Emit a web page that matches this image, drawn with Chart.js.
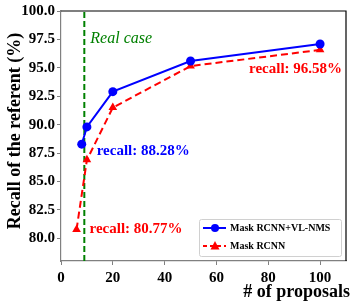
<!DOCTYPE html>
<html>
<head>
<meta charset="utf-8">
<script src="https://cdn.jsdelivr.net/npm/chart.js@4/dist/chart.umd.min.js"></script>
<style>
  html, body { margin: 0; padding: 0; background: #fff; }
  #wrap { width: 357px; height: 303px; }
</style>
</head>
<body>
<div id="wrap"><canvas id="c" width="357" height="303"></canvas></div>
<script>
// ---- data ----
const proposalsVL = [8, 10, 20, 50, 100];
const recallVL    = [88.28, 89.8, 92.9, 95.6, 97.1];
const proposalsMR = [6, 10, 20, 50, 100];
const recallMR    = [80.77, 86.9, 91.5, 95.15, 96.58];
const realCaseX   = 9;
const xTicks = [0, 20, 40, 60, 80, 100];
const yTicks = [80.0, 82.5, 85.0, 87.5, 90.0, 92.5, 95.0, 97.5, 100.0];
const labelVL = 'Mask RCNN+VL-NMS';
const labelMR = 'Mask RCNN';
const xTitle = '# of proposals';
const yTitle = 'Recall of the referent (%)';
const realCaseText = 'Real case';

const SERIF = '"Liberation Serif", "Times New Roman", serif';
const BLUE = '#0000ff', RED = '#ff0000', GREEN = '#008000', GRAY = '#808080';

function pts(xs, ys) { return xs.map((x, i) => ({ x: x, y: ys[i] })); }

const overlay = {
  id: 'overlay',
  afterDraw(chart) {
    const ctx = chart.ctx, a = chart.chartArea;
    const xs = chart.scales.x, ys = chart.scales.y;
    ctx.save();
    // top & right spines (black)
    ctx.strokeStyle = '#000'; ctx.lineWidth = 1.2;
    ctx.beginPath();
    ctx.moveTo(a.left, a.top); ctx.lineTo(a.right, a.top); ctx.lineTo(a.right, a.bottom);
    ctx.stroke();

    // annotations anchored to data points
    ctx.textBaseline = 'middle';
    ctx.font = 'bold 15px ' + SERIF;
    ctx.fillStyle = BLUE; ctx.textAlign = 'left';
    ctx.fillText('recall: ' + recallVL[0].toFixed(2) + '%',
      xs.getPixelForValue(proposalsVL[0]) + 15, ys.getPixelForValue(recallVL[0]) + 7);
    ctx.fillStyle = RED;
    ctx.fillText('recall: ' + recallMR[0].toFixed(2) + '%',
      xs.getPixelForValue(proposalsMR[0]) + 13, ys.getPixelForValue(recallMR[0]));
    ctx.textAlign = 'right';
    const n = recallMR.length - 1;
    ctx.fillText('recall: ' + recallMR[n].toFixed(2) + '%',
      xs.getPixelForValue(proposalsMR[n]) + 22, ys.getPixelForValue(recallMR[n]) + 19);

    // Real case label
    ctx.fillStyle = GREEN; ctx.textAlign = 'left';
    ctx.font = 'italic 16px ' + SERIF;
    ctx.fillText(realCaseText, xs.getPixelForValue(realCaseX) + 6, a.top + 28);

    // axis titles
    ctx.fillStyle = '#000';
    ctx.font = 'bold 18px ' + SERIF;
    ctx.textAlign = 'right';
    ctx.fillText(xTitle, 350, 292);
    ctx.save();
    ctx.translate(15, 131);
    ctx.rotate(-Math.PI / 2);
    ctx.textAlign = 'center';
    ctx.fillText(yTitle, 0, 0);
    ctx.restore();

    // legend
    const lx = 199, ly = 219, lw = 142, lh = 37;
    ctx.fillStyle = '#fff';
    ctx.strokeStyle = '#d0d0d0'; ctx.lineWidth = 1;
    ctx.beginPath();
    if (ctx.roundRect) ctx.roundRect(lx + 0.5, ly + 0.5, lw, lh, 2); else ctx.rect(lx + 0.5, ly + 0.5, lw, lh);
    ctx.fill(); ctx.stroke();
    const items = [
      { label: labelVL, color: BLUE, dash: [], marker: 'circle', y: ly + 9 },
      { label: labelMR, color: RED, dash: [4, 3], marker: 'triangle', y: ly + 27 }
    ];
    items.forEach(it => {
      ctx.strokeStyle = it.color; ctx.fillStyle = it.color; ctx.lineWidth = 2;
      ctx.setLineDash(it.dash);
      ctx.beginPath(); ctx.moveTo(lx + 4, it.y); ctx.lineTo(lx + 27, it.y); ctx.stroke();
      ctx.setLineDash([]);
      const cx = lx + 16;
      ctx.beginPath();
      if (it.marker === 'circle') ctx.arc(cx, it.y, 4, 0, Math.PI * 2);
      else { ctx.moveTo(cx, it.y - 5); ctx.lineTo(cx + 4.5, it.y + 3.5); ctx.lineTo(cx - 4.5, it.y + 3.5); ctx.closePath(); }
      ctx.fill();
      ctx.fillStyle = '#000';
      ctx.font = 'bold 10px ' + SERIF;
      ctx.textAlign = 'left'; ctx.textBaseline = 'middle';
      ctx.fillText(it.label, lx + 31, it.y);
    });
    ctx.restore();
  }
};

new Chart(document.getElementById('c'), {
  type: 'line',
  data: {
    datasets: [
      {
        label: 'Real case',
        data: [{ x: realCaseX, y: 78 }, { x: realCaseX, y: 100 }],
        borderColor: GREEN, borderWidth: 2, borderDash: [6, 3],
        pointRadius: 0, fill: false, order: 3
      },
      {
        label: labelMR,
        data: pts(proposalsMR, recallMR),
        borderColor: RED, backgroundColor: RED, borderWidth: 2, borderDash: [7, 4],
        pointStyle: 'triangle', pointRadius: 5, pointBorderWidth: 0, pointBackgroundColor: RED,
        fill: false, tension: 0, order: 2
      },
      {
        label: labelVL,
        data: pts(proposalsVL, recallVL),
        borderColor: BLUE, backgroundColor: BLUE, borderWidth: 2,
        pointStyle: 'circle', pointRadius: 4.5, pointBorderWidth: 0, pointBackgroundColor: BLUE,
        fill: false, tension: 0, order: 1
      }
    ]
  },
  options: {
    responsive: false,
    animation: false,
    devicePixelRatio: 1,
    clip: false,
    layout: { padding: { left: 0, top: 10, right: 11, bottom: 0 } },
    plugins: { legend: { display: false }, tooltip: { enabled: false }, title: { display: false } },
    scales: {
      x: {
        type: 'linear', min: 0, max: 110,
        afterBuildTicks: s => { s.ticks = xTicks.map(v => ({ value: v })); },
        afterFit: s => { s.height = 42; },
        grid: { drawOnChartArea: false, tickLength: 4, color: GRAY, tickColor: GRAY },
        border: { color: GRAY, width: 1.2 },
        ticks: { color: '#000', font: { family: SERIF, size: 15, weight: 'bold' }, padding: 4, maxRotation: 0,
                 callback: v => String(v) }
      },
      y: {
        type: 'linear', min: 78, max: 100,
        afterBuildTicks: s => { s.ticks = yTicks.map(v => ({ value: v })); },
        afterFit: s => { s.width = 61; },
        grid: { drawOnChartArea: false, tickLength: 4, color: GRAY, tickColor: GRAY },
        border: { color: GRAY, width: 1.2 },
        ticks: { color: '#000', font: { family: SERIF, size: 15, weight: 'bold' }, padding: 2,
                 callback: v => Number(v).toFixed(1) }
      }
    }
  },
  plugins: [overlay]
});
</script>
</body>
</html>
